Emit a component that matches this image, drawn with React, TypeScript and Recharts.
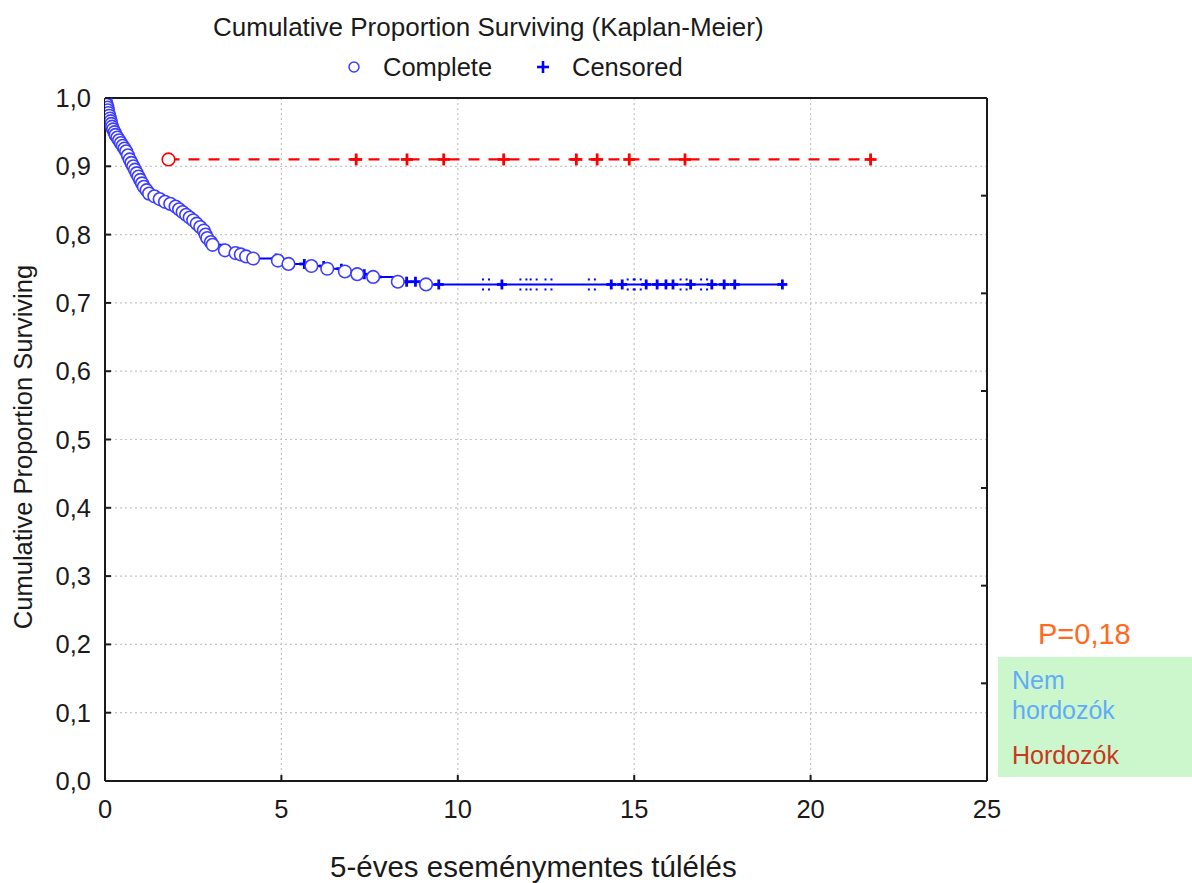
import React from 'react';
import { ComposedChart, Line, Scatter, XAxis, YAxis, CartesianGrid } from 'recharts';

// ---------- data ----------
const xTicks = [0, 5, 10, 15, 20, 25];
const yTicks = [0, 0.1, 0.2, 0.3, 0.4, 0.5, 0.6, 0.7, 0.8, 0.9, 1.0];
const topTicks = [1.21, 5.93, 10.66, 15.39, 20.12];
const rightTicks = [0.143, 0.286, 0.429, 0.571, 0.714, 0.857];

// Nem hordozók (blue) – complete events
const blueEventTimes = [
  0.01, 0.03, 0.05, 0.07, 0.08, 0.1, 0.12, 0.14, 0.16, 0.18, 0.2, 0.23, 0.27, 0.3, 0.35, 0.4, 0.45, 0.5, 0.55, 0.6,
  0.65, 0.7, 0.75, 0.8, 0.85, 0.9, 0.95, 1.0, 1.05, 1.1, 1.18, 1.25, 1.4, 1.55, 1.7, 1.85,
  2.0, 2.1, 2.2, 2.3, 2.4, 2.5, 2.6, 2.7, 2.8, 2.85, 2.9, 3.0, 3.05, 3.4, 3.7, 3.85, 4.0,
  4.2, 4.9, 5.2, 5.85, 6.3, 6.8, 7.15, 7.6, 8.3, 9.1,
];
const blueEventSurv = [
  0.997, 0.993, 0.99, 0.986, 0.982, 0.978, 0.974, 0.97, 0.966, 0.962, 0.958, 0.954, 0.95, 0.946, 0.942, 0.938, 0.934, 0.93, 0.926, 0.922,
  0.916, 0.91, 0.905, 0.9, 0.895, 0.89, 0.885, 0.88, 0.875, 0.87, 0.865, 0.86, 0.856, 0.852, 0.848, 0.845,
  0.841, 0.837, 0.833, 0.829, 0.825, 0.821, 0.816, 0.811, 0.806, 0.8, 0.795, 0.789, 0.785, 0.777, 0.773, 0.771, 0.768,
  0.765, 0.762, 0.757, 0.754, 0.75, 0.746, 0.742, 0.738, 0.731, 0.727,
];
const blueCensorTimes = [
  4.85, 5.65, 6.2, 6.7, 7.35, 7.7, 8.55, 8.8, 9.46, 11.25, 14.35, 14.66, 15.34, 15.65, 15.9,
  16.1, 16.6, 17.2, 17.55, 17.85, 19.2,
];
const blueFaintCensorTimes = [10.8, 11.86, 12.15, 12.57, 13.8, 14.9, 15.1, 16.4, 16.98];
const blueEndTime = 19.2;

// Hordozók (red)
const redEventTimes = [1.8];
const redEventSurv = [0.91];
const redCensorTimes = [7.12, 8.56, 9.6, 11.3, 13.36, 13.95, 14.86, 16.44, 21.7];
const redEndTime = 21.7;

// ---------- derived tables ----------
const survAt = (times: number[], survs: number[], t: number, start: number) => {
  let s = start;
  for (let i = 0; i < times.length; i++) if (times[i] <= t) s = survs[i];
  return s;
};

const blueEvents = blueEventTimes.map((t, i) => ({ t, s: blueEventSurv[i] }));
const blueLine = [{ t: 0, s: 1 }, ...blueEvents, { t: blueEndTime, s: survAt(blueEventTimes, blueEventSurv, blueEndTime, 1) }];
const blueCensored = blueCensorTimes.map((t) => ({ t, s: survAt(blueEventTimes, blueEventSurv, t, 1) }));
const blueFaint = blueFaintCensorTimes.map((t) => ({ t, s: survAt(blueEventTimes, blueEventSurv, t, 1) }));

const redEvents = redEventTimes.map((t, i) => ({ t, s: redEventSurv[i] }));
const redLine = [...redEvents, { t: redEndTime, s: survAt(redEventTimes, redEventSurv, redEndTime, 1) }];
const redCensored = redCensorTimes.map((t) => ({ t, s: survAt(redEventTimes, redEventSurv, t, 1) }));

// ---------- styles ----------
const FONT = '"Liberation Sans", Arial, sans-serif';
const AXIS = '#1a1a1a';
const BLUE = '#0000ff';
const BLUE_CIRCLE = '#3c3cff';
const RED = '#ff0000';

const circleShape = (color: string) => (p: any) => (
  <circle cx={p.cx} cy={p.cy} r={6.3} fill="#ffffff" stroke={color} strokeWidth={1.6} />
);
const plusShape = (color: string, h: number) => (p: any) => (
  <g stroke={color} strokeWidth={2.8}>
    <line x1={p.cx - h} y1={p.cy} x2={p.cx + h} y2={p.cy} />
    <line x1={p.cx} y1={p.cy - h} x2={p.cx} y2={p.cy + h} />
  </g>
);
const faintShape = (p: any) => (
  <g fill={BLUE}>
    <rect x={p.cx - 4} y={p.cy - 6} width={2} height={2} />
    <rect x={p.cx + 2} y={p.cy - 6} width={2} height={2} />
    <rect x={p.cx - 4} y={p.cy + 4} width={2} height={2} />
    <rect x={p.cx + 2} y={p.cy + 4} width={2} height={2} />
  </g>
);

const YTick = (p: any) => (
  <g>
    <line x1={p.x} y1={p.y} x2={p.x + 6} y2={p.y} stroke={AXIS} strokeWidth={2} />
    <text x={p.x - 14} y={p.y + 9} textAnchor="end" fontSize={25.5} fontFamily={FONT} fill={AXIS}>
      {Number(p.payload.value).toFixed(1).replace('.', ',')}
    </text>
  </g>
);
const XTick = (p: any) => (
  <g>
    <line x1={p.x} y1={p.y} x2={p.x} y2={p.y - 6} stroke={AXIS} strokeWidth={2} />
    <text x={p.x} y={p.y + 37} textAnchor="middle" fontSize={25.5} fontFamily={FONT} fill={AXIS}>
      {p.payload.value}
    </text>
  </g>
);
const TopTick = (p: any) => (
  <line x1={p.x} y1={p.y} x2={p.x} y2={p.y + 6} stroke={AXIS} strokeWidth={2} />
);
const RightTick = (p: any) => (
  <line x1={p.x} y1={p.y} x2={p.x - 6} y2={p.y} stroke={AXIS} strokeWidth={2} />
);

const abs = (left: number, top: number, extra: React.CSSProperties = {}): React.CSSProperties => ({
  position: 'absolute',
  left,
  top,
  fontFamily: FONT,
  lineHeight: 1,
  whiteSpace: 'nowrap',
  ...extra,
});

export default function App() {
  return (
    <div style={{ position: 'absolute', left: 0, top: 0, width: 1192, height: 883, background: '#ffffff', overflow: 'hidden' }}>
      <ComposedChart width={1192} height={883} margin={{ top: 97, right: 204, bottom: 101, left: 104 }}>
        <CartesianGrid stroke="#c4c4c4" strokeDasharray="2 3" strokeWidth={1.2} />
        <XAxis
          dataKey="t"
          type="number"
          domain={[0, 25]}
          ticks={xTicks}
          height={1}
          tickSize={0}
          tickMargin={0}
          tickLine={false}
          tick={XTick}
          interval={0}
          axisLine={{ stroke: AXIS, strokeWidth: 2 }}
          allowDataOverflow
        />
        <XAxis
          xAxisId="top"
          orientation="top"
          type="number"
          domain={[0, 25]}
          ticks={topTicks}
          height={1}
          tickSize={0}
          tickMargin={0}
          tickLine={false}
          tick={TopTick}
          interval={0}
          axisLine={{ stroke: AXIS, strokeWidth: 2 }}
          allowDataOverflow
        />
        <YAxis
          dataKey="s"
          type="number"
          domain={[0, 1]}
          ticks={yTicks}
          width={1}
          tickSize={0}
          tickMargin={0}
          tickLine={false}
          tick={YTick}
          interval={0}
          axisLine={{ stroke: AXIS, strokeWidth: 2 }}
          allowDataOverflow
        />
        <YAxis
          yAxisId="right"
          orientation="right"
          type="number"
          domain={[0, 1]}
          ticks={rightTicks}
          width={1}
          tickSize={0}
          tickMargin={0}
          tickLine={false}
          tick={RightTick}
          interval={0}
          axisLine={{ stroke: AXIS, strokeWidth: 2 }}
          allowDataOverflow
        />
        <Line data={blueLine} dataKey="s" type="stepAfter" stroke={BLUE} strokeWidth={2} dot={false} isAnimationActive={false} />
        <Line data={redLine} dataKey="s" type="stepAfter" stroke={RED} strokeWidth={2.2} strokeDasharray="11 9" dot={false} isAnimationActive={false} />
        <Scatter data={blueFaint} dataKey="s" shape={faintShape} isAnimationActive={false} />
        <Scatter data={blueCensored} dataKey="s" shape={plusShape(BLUE, 5)} isAnimationActive={false} />
        <Scatter data={blueEvents} dataKey="s" shape={circleShape(BLUE_CIRCLE)} isAnimationActive={false} />
        <Scatter data={redCensored} dataKey="s" shape={plusShape(RED, 6)} isAnimationActive={false} />
        <Scatter data={redEvents} dataKey="s" shape={circleShape(RED)} isAnimationActive={false} />
      </ComposedChart>

      <div style={abs(213, 14, { fontSize: 26, color: AXIS })}>Cumulative Proportion Surviving (Kaplan-Meier)</div>

      <svg style={{ position: 'absolute', left: 344, top: 57 }} width={20} height={20}>
        <circle cx={10} cy={10} r={5} fill="#fff" stroke={BLUE_CIRCLE} strokeWidth={1.5} />
      </svg>
      <div style={abs(383, 54.5, { fontSize: 25.5, color: AXIS })}>Complete</div>
      <svg style={{ position: 'absolute', left: 533, top: 57 }} width={20} height={20}>
        <g stroke={BLUE} strokeWidth={2.6}>
          <line x1={4} y1={10} x2={16} y2={10} />
          <line x1={10} y1={4} x2={10} y2={16} />
        </g>
      </svg>
      <div style={abs(572, 54.5, { fontSize: 25.5, color: AXIS })}>Censored</div>

      <div
        style={abs(24, 447, {
          fontSize: 25.5,
          color: AXIS,
          transform: 'translate(-50%, -50%) rotate(-90deg)',
        })}
      >
        Cumulative Proportion Surviving
      </div>

      <div style={abs(330, 852, { fontSize: 29.5, color: AXIS })}>5-éves eseménymentes túlélés</div>

      <div style={abs(1038, 619.5, { fontSize: 29, color: '#ff6a21' })}>P=0,18</div>
      <div style={{ position: 'absolute', left: 998, top: 657, width: 194, height: 120, background: '#ccf7cc' }} />
      <div style={abs(1012, 668, { fontSize: 25, color: '#62acf7' })}>Nem</div>
      <div style={abs(1012, 698, { fontSize: 25, color: '#62acf7' })}>hordozók</div>
      <div style={abs(1012, 743, { fontSize: 25, color: '#c9381d' })}>Hordozók</div>
    </div>
  );
}
